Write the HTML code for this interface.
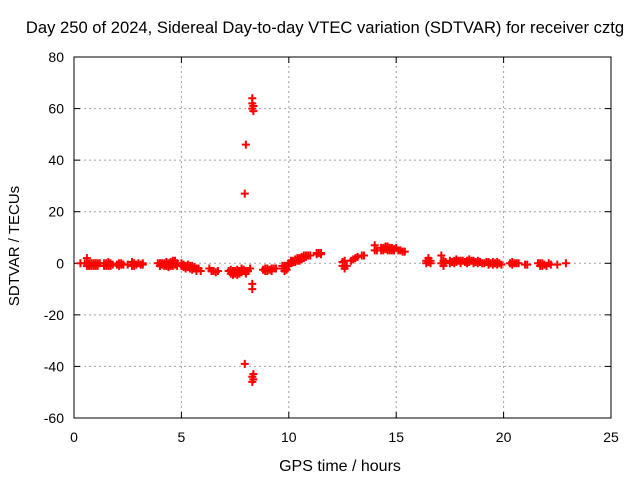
<!DOCTYPE html>
<html><head><meta charset="utf-8"><style>
body{margin:0;background:#fff}
text{font-family:"Liberation Sans",sans-serif;font-size:14px;fill:#000}
</style></head><body>
<svg id="chart" width="640" height="480" xmlns="http://www.w3.org/2000/svg">
<text x="325" y="33" text-anchor="middle" style="font-size:16.6px">Day 250 of 2024, Sidereal Day-to-day VTEC variation (SDTVAR) for receiver cztg</text>
<text x="340" y="471" text-anchor="middle" style="font-size:16px">GPS time / hours</text>
<text transform="translate(19,246) rotate(-90)" text-anchor="middle" style="font-size:15px">SDTVAR / TECUs</text>
<g id="grid"></g><g id="ticks"></g><g id="marks"></g>
<rect x="74" y="57" width="537" height="361" fill="none" stroke="#000" stroke-width="1"/>
</svg>
<script>
const xTicks=[0,5,10,15,20,25];
const yTicks=[-60,-40,-20,0,20,40,60,80];
const hours=[0.3,0.5,0.6,0.6,0.7,0.7,0.8,0.8,0.9,0.9,1.0,1.0,1.1,1.1,1.2,1.4,1.4,1.5,1.5,1.6,1.6,1.7,1.7,1.8,2.0,2.1,2.1,2.2,2.2,2.3,2.5,2.7,2.7,2.8,2.8,2.9,3.0,3.1,3.2,3.2,
3.9,4.0,4.0,4.1,4.1,4.2,4.2,4.3,4.3,4.4,4.4,4.5,4.5,4.6,4.6,4.7,4.7,4.8,4.8,
5.0,5.0,5.1,5.1,5.2,5.2,5.3,5.3,5.4,5.4,5.5,5.5,5.6,5.6,5.7,5.7,5.8,5.9,6.3,6.4,6.5,6.6,6.7,
7.2,7.3,7.3,7.4,7.4,7.5,7.5,7.6,7.6,7.7,7.7,7.8,7.8,7.9,7.9,8.0,8.0,8.1,8.2,
8.0,7.95,7.95,8.3,8.3,8.3,8.35,8.35,8.3,8.3,8.3,8.3,8.35,8.35,
8.8,8.9,8.9,9.0,9.0,9.1,9.2,9.2,9.3,9.4,
9.7,9.7,9.8,9.8,9.9,9.9,10.0,10.0,10.1,10.1,10.2,10.2,10.3,10.3,10.4,10.4,10.5,10.5,10.6,10.6,10.7,10.7,10.8,10.8,10.9,11.0,
11.3,11.3,11.4,11.5,11.5,12.5,12.5,12.6,12.6,12.7,12.9,13.0,13.1,13.2,13.4,13.5,
14.0,14.0,14.1,14.3,14.3,14.4,14.4,14.5,14.5,14.6,14.6,14.7,14.7,14.8,14.8,14.9,14.9,15.0,15.1,15.2,15.3,15.4,
16.4,16.4,16.5,16.5,16.6,16.6,17.1,17.1,17.2,17.2,17.3,17.5,17.5,17.6,17.7,17.7,17.8,17.8,17.9,18.0,18.0,18.1,18.2,18.3,18.3,18.4,18.4,18.5,18.6,18.6,18.7,18.8,18.8,18.9,19.0,19.1,19.2,19.3,19.3,19.4,19.5,19.5,19.6,19.7,19.7,19.8,19.9,
20.3,20.4,20.4,20.5,20.6,20.7,21.0,21.1,21.6,21.7,21.7,21.8,21.8,21.9,22.0,22.1,22.2,22.5,22.9];
const values=[0,0,2,-1,0,-1,-1,0,-1,0,-1,0,-1,0,0,-1,0,-1,0,-1,0.5,0,-1,-0.5,-0.5,0,-1,-0.5,0,-0.5,-0.5,-1,0.5,0,-1,-0.5,0,-0.5,-0.5,0,
0,0,-1,-0.5,0,-1,0,-1,0.5,-1.5,0,-1,0.5,-1,1,-0.5,1,0,-1,
-1,0,-0.5,-1.5,-1,-2,-1.5,-0.5,-2,-1,-1,-2.5,-1.5,-2,-2,-3,-2,-3,-2,-3,-3,-3.5,-3,
-3,-2.5,-4,-3,-4.5,-3,-4,-2.5,-4.5,-3,-4,-2,-3.5,-2.5,-3,-3,-4,-3,-2,
46,27,-39,64,62,60,61,59,-8,-10,-44,-46,-45,-43,
-2.5,-2,-3,-2,-3,-2.5,-2,-3,-2,-2,
-2,-1,-3,-1,-1,-2.5,0,-1,0,1,1,0.5,1.5,0.5,2,1,2,1,2.5,1.5,3,2,2.5,3,3,3,
4,3.5,4,4,3.5,-1,0.5,-2,1,-1,1,1.5,2,2.5,3,3,
5,7,5,6,5,6,5,6.5,5.5,6.5,5,6,5,6,5,5.5,5,6,5,5,4.5,4.5,
1,0,2,0.5,1,0,3,0,-1,1,0.5,1,0,0.5,1,0,0.5,1.5,1,1,0,1,0.5,1,0,1.5,0.5,1,1,0,0.5,0,1,0.5,0,0,0.5,0.5,-0.5,0,0.5,-0.5,0,0.5,-0.5,0,-0.5,
0,0.5,-0.5,0,0,0,-0.5,-0.5,0,-1,0,-1,0,-0.5,-1,0,-0.5,-0.5,0];
const X0=74,X1=611,Y0=418,Y1=57;
const xs=h=>X0+(h-0)/(25-0)*(X1-X0);
const ys=v=>Y0-(v+60)/(140)*(Y0-Y1);
const NS="http://www.w3.org/2000/svg";
const grid=document.getElementById('grid'),ticks=document.getElementById('ticks'),marks=document.getElementById('marks');
function mk(tag,attrs,parent){const e=document.createElementNS(NS,tag);for(const k in attrs)e.setAttribute(k,attrs[k]);parent.appendChild(e);return e;}
xTicks.forEach(t=>{const x=xs(t);
 if(t>0&&t<25){const g=mk('line',{x1:x,x2:x,y1:Y0,y2:Y1,stroke:'#a0a0a0','stroke-dasharray':'2,3'},grid);
 
 }
 mk('line',{x1:x,x2:x,y1:Y0,y2:Y0-6,stroke:'#000'},ticks);mk('line',{x1:x,x2:x,y1:Y1,y2:Y1+6,stroke:'#000'},ticks);
 const l=mk('text',{x:x,y:Y0+24,'text-anchor':'middle'},ticks);l.textContent=t;
 
 });
yTicks.forEach(t=>{const y=ys(t);
 if(t>-60&&t<80){const g=mk('line',{x1:X0,x2:X1,y1:y,y2:y,stroke:'#a0a0a0','stroke-dasharray':'2,3'},grid);
 
 }
 mk('line',{x1:X0,x2:X0+6,y1:y,y2:y,stroke:'#000'},ticks);mk('line',{x1:X1,x2:X1-6,y1:y,y2:y,stroke:'#000'},ticks);
 const l=mk('text',{x:X0-10,y:y+5,'text-anchor':'end'},ticks);l.textContent=t;
 
 });
hours.forEach((h,i)=>{const x=xs(h),y=ys(values[i]);
 const p=mk('path',{d:`M${x-4},${y}H${x+4}M${x},${y-4}V${y+4}`,stroke:'#ff0000','stroke-width':2,fill:'none'},marks);
 
 });
</script>
</body></html>
